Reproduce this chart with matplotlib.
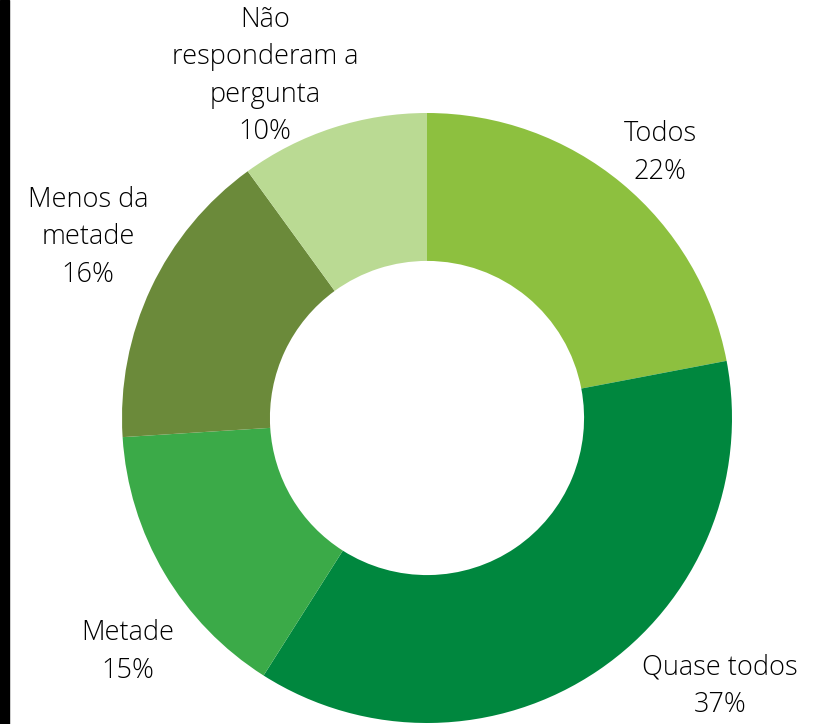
import matplotlib.pyplot as plt
from matplotlib.patches import Rectangle

# Dados do gráfico
categorias = ["Todos", "Quase todos", "Metade", "Menos da\nmetade", "Não\nresponderam a\npergunta"]
valores = [22, 37, 15, 16, 10]
cores = ["#8DC03F", "#00873E", "#3BAA48", "#6B8A3A", "#BADA93"]

# Posição dos rótulos (coordenadas do eixo)
pos_rotulos = [(0.764, 0.869), (0.961, -0.879), (-0.980, -0.767),
               (-1.111, 0.593), (-0.531, 1.121)]

fig = plt.figure(figsize=(8.17, 7.24), dpi=100)
fig.patch.set_facecolor("white")
fig.patches.append(Rectangle((0, 0), 9 / 817, 1, transform=fig.transFigure,
                             color="black", zorder=10))

ax = fig.add_axes([0, 0, 1, 1])
ax.pie(valores, colors=cores, startangle=90, counterclock=False,
       radius=1.0, wedgeprops=dict(width=0.485, edgecolor="none"))
ax.set_aspect("auto")
ax.set_xlim(-1.4, 1.2787)
ax.set_ylim(-1.0033, 1.3705)
ax.axis("off")

for cat, val, (x, y) in zip(categorias, valores, pos_rotulos):
    ax.text(x, y, f"{cat}\n{val}%", ha="center", va="center",
            fontsize=19.5, family="Open Sans", fontweight="light",
            linespacing=1.45, color="black")

fig.savefig("out.png", dpi=100)
